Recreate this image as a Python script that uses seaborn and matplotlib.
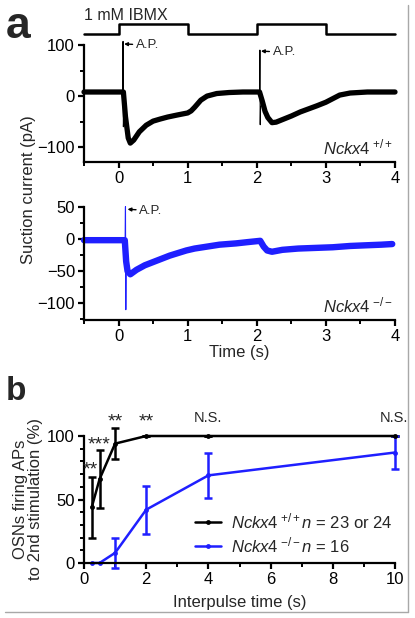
import numpy as np
import pandas as pd
import matplotlib
matplotlib.use("Agg")
import matplotlib.pyplot as plt
from matplotlib.ticker import MultipleLocator
from matplotlib.lines import Line2D
import seaborn as sns

# ---------------- data ----------------
# stimulus (1 mM IBMX) on/off
stim_t = [-0.5, 0, 0, 1, 1, 2, 2, 3, 3, 4]
stim_v = [0, 0, 1, 1, 0, 0, 1, 1, 0, 0]

# Nckx4 +/+ suction current (pA), smoothed trace
wt_t = [-0.5, 0.0, 0.07, 0.10, 0.14, 0.17, 0.22, 0.30, 0.40, 0.50, 0.60, 0.71, 0.85, 1.00,
        1.05, 1.10, 1.19, 1.28, 1.42, 1.60, 1.80, 2.04, 2.08, 2.12, 2.16, 2.22, 2.28, 2.39,
        2.50, 2.63, 2.75, 2.87, 3.00, 3.10, 3.20, 3.35, 3.60, 4.0]
wt_v = [8, 8, 8, -40, -82, -92, -86, -70, -57, -49, -45, -41, -37, -33,
        -29, -22, -8, 0, 5, 7, 8, 8, -10, -30, -42, -52, -51, -45,
        -39, -31, -25, -19, -12, -5, 2, 6, 8, 8]
# action potential spikes (+/+), first and second pulse
wt_sp1_t = [0.06, 0.065, 0.07, 0.075]
wt_sp1_v = [8, 107, -60, -45]
wt_sp2_t = [2.04, 2.045, 2.05, 2.055]
wt_sp2_v = [8, 90, -56, -20]

# Nckx4 -/- suction current (pA)
ko_t = [-0.5, 0.0, 0.09, 0.11, 0.13, 0.17, 0.26, 0.38, 0.50, 0.62, 0.74, 0.86, 0.98,
        1.10, 1.22, 1.46, 1.70, 1.87, 2.05, 2.10, 2.15, 2.22, 2.37, 2.60, 2.85, 3.10,
        3.35, 3.57, 3.80, 3.96]
ko_v = [-2, -2, -2, -35, -50, -55, -48, -41, -36, -31, -26, -22, -18,
        -15, -13, -9, -7, -5, -3, -12, -18, -20, -17, -15, -14, -13,
        -11, -10, -9, -8]
ko_sp_t = [0.095, 0.10, 0.105, 0.11]
ko_sp_v = [-2, 50, -110, -35]

# panel b
interpulse = [0.25, 0.5, 1, 2, 4, 10]
wt_pct = [44, 66, 94, 100, 100, 100]
wt_err = [24, 23, 12, 0, 0, 0]
ko_pct = [0, 0, 8, 42, 69, 87]
ko_err = [0, 0, 12, 19, 18, 13]
signif = ["**", "***", "**", "**", "N.S.", "N.S."]
signif_x = [0.21, 0.48, 1.01, 1.99, 4.0, 9.97]
signif_y = [73, 93, 111, 111, 114, 114]

# ---------------- style ----------------
sns.set_theme(style="ticks")
plt.rcParams["font.family"] = ["Liberation Sans", "DejaVu Sans"]
plt.rcParams["mathtext.fontset"] = "custom"
plt.rcParams["mathtext.it"] = "Liberation Sans:italic"
plt.rcParams["mathtext.rm"] = "Liberation Sans"
plt.rcParams["axes.linewidth"] = 1.6
for ax_ in ("xtick", "ytick"):
    plt.rcParams[f"{ax_}.major.width"] = 1.6
    plt.rcParams[f"{ax_}.minor.width"] = 1.4
    plt.rcParams[f"{ax_}.major.size"] = 4
    plt.rcParams[f"{ax_}.minor.size"] = 3
    plt.rcParams[f"{ax_}.major.pad"] = 2.5
    plt.rcParams[f"{ax_}.direction"] = "out"
    plt.rcParams[f"{ax_}.labelsize"] = 12
    plt.rcParams[f"{ax_}.color"] = "black"
    plt.rcParams[f"{ax_}.labelcolor"] = "black"
plt.rcParams["axes.edgecolor"] = "black"

W, H = 415, 618
fig = plt.figure(figsize=(W / 100, H / 100), dpi=100)

def box(l, r, t, b):
    return [l / W, 1 - b / H, (r - l) / W, (b - t) / H]

BLUE = "#1f1fff"
FS = 12

def line(ax, x, y, **kw):
    sns.lineplot(x=x, y=y, ax=ax, estimator=None, sort=False, **kw)

# stimulus axes
ax_s = fig.add_axes(box(84, 395, 24, 34))
line(ax_s, stim_t, stim_v, color="black", lw=1.8)
for l in ax_s.lines:
    l.set_clip_on(False)
ax_s.set_xlim(-0.5, 4)
ax_s.set_ylim(0, 1)
ax_s.axis("off")
fig.text(84 / W, 1 - 15 / H, "1 mM IBMX", fontsize=11.5, va="center", ha="left")

ap_kw = dict(fontsize=9.5, va="center", ha="left", annotation_clip=False,
             arrowprops=dict(arrowstyle="-|>", color="black", lw=1, shrinkA=0, shrinkB=0,
                             mutation_scale=5))

# panel a top
ax1 = fig.add_axes(box(84, 395, 45, 162))
line(ax1, wt_t, wt_v, color="black", lw=3.8)
line(ax1, wt_sp1_t, wt_sp1_v, color="black", lw=0.8)
line(ax1, wt_sp2_t, wt_sp2_v, color="black", lw=0.8)
for l in ax1.lines:
    l.set_clip_on(False)
ax1.set_xlim(-0.5, 4)
ax1.set_ylim(-129, 100)
ax1.set_yticks([-100, 0, 100])
ax1.set_yticklabels(["\u2212100", "0", "100"])
ax1.yaxis.set_minor_locator(MultipleLocator(50))
ax1.set_xticks([0, 1, 2, 3, 4])
ax1.xaxis.set_minor_locator(MultipleLocator(0.5))
ax1.set_ylabel("")
ax1.set_xlabel("")
sns.despine(ax=ax1)
ax1.annotate("A.P.", xy=(0.08, 102), xytext=(0.25, 100), **ap_kw)
ax1.annotate("A.P.", xy=(2.06, 88), xytext=(2.23, 86), **ap_kw)
ax1.text(3.97, -100, r"$\mathit{Nckx4}^{\ \mathrm{+/+}}$", fontsize=FS, ha="right", va="center")

# panel a bottom
ax2 = fig.add_axes(box(84, 395, 206.7, 320))
line(ax2, ko_t, ko_v, color=BLUE, lw=4.6)
line(ax2, ko_sp_t, ko_sp_v, color=BLUE, lw=0.8)
for l in ax2.lines:
    l.set_clip_on(False)
ax2.set_xlim(-0.5, 4)
ax2.set_ylim(-126, 50)
ax2.set_yticks([-100, -50, 0, 50])
ax2.set_yticklabels(["\u2212100", "\u221250", "0", "50"])
ax2.yaxis.set_minor_locator(MultipleLocator(25))
ax2.set_xticks([0, 1, 2, 3, 4])
ax2.xaxis.set_minor_locator(MultipleLocator(0.5))
ax2.set_ylabel("")
ax2.set_xlabel("Time (s)", fontsize=FS, labelpad=1)
sns.despine(ax=ax2)
ax2.annotate("A.P.", xy=(0.13, 46), xytext=(0.30, 44), **ap_kw)
ax2.text(3.97, -103, r"$\mathit{Nckx4}^{\ \mathrm{-/-}}$", fontsize=FS, ha="right", va="center")

fig.text(28 / W, 1 - 190 / H, "Suction current (pA)", rotation=90, fontsize=FS,
         ha="center", va="center")

# panel b
ax3 = fig.add_axes(box(84, 395, 436, 563))
ax3.errorbar(interpulse, wt_pct, yerr=wt_err, fmt="none", ecolor="black", elinewidth=1.8,
             capsize=3, capthick=1.8, clip_on=False)
ax3.errorbar(interpulse[2:], ko_pct[2:], yerr=ko_err[2:], fmt="none", ecolor=BLUE,
             elinewidth=1.8, capsize=3, capthick=1.8, clip_on=False)
sns.lineplot(x=interpulse, y=wt_pct, ax=ax3, color="black", lw=1.8, marker="o",
             markersize=3.5, markeredgewidth=0, estimator=None)
sns.lineplot(x=interpulse, y=ko_pct, ax=ax3, color=BLUE, lw=1.8, marker="o",
             markersize=3.5, markeredgewidth=0, estimator=None)
for l in ax3.lines:
    l.set_clip_on(False)
for c in ax3.collections:
    c.set_clip_on(False)
ax3.set_xlim(0, 10)
ax3.set_ylim(0, 100)
ax3.set_xticks([0, 2, 4, 6, 8, 10])
ax3.xaxis.set_minor_locator(MultipleLocator(1))
ax3.set_yticks([0, 50, 100])
ax3.yaxis.set_minor_locator(MultipleLocator(10))
sns.despine(ax=ax3)
ax3.set_xlabel("Interpulse time (s)", fontsize=FS, labelpad=6)
ax3.set_ylabel("OSNs firing APs\nto 2nd stimulation (%)", fontsize=FS, labelpad=3,
               linespacing=1.0)
for s, x, y in zip(signif, signif_x, signif_y):
    fs = 10.5 if s == "N.S." else 14
    ax3.text(x, y, s, ha="center", va="center", fontsize=fs, clip_on=False)

handles = [Line2D([], [], color="black", lw=1.8, marker="o", markersize=3.5, markeredgewidth=0),
           Line2D([], [], color=BLUE, lw=1.8, marker="o", markersize=3.5, markeredgewidth=0)]
labels = [r"$\mathit{Nckx4}^{\ \mathrm{+/+}}\mathit{n}$ = 23 or 24",
          r"$\mathit{Nckx4}^{\ \mathrm{-/-}}\mathit{n}$ = 16"]
ax3.legend(handles, labels, loc="lower right", bbox_to_anchor=(1.03, -0.03), frameon=False,
           fontsize=FS, handlelength=1.6, handletextpad=0.6, labelspacing=0.25,
           borderpad=0.2)

fig.text(6 / W, 1 - 26 / H, "a", fontsize=32, fontweight="bold", va="center", ha="left")
fig.text(6 / W, 1 - 392 / H, "b", fontsize=24, fontweight="bold", va="center", ha="left")

# thin gray frame at right and bottom edges
fig.add_artist(Line2D([407.5 / W, 407.5 / W], [1 - 612 / H, 1 - 5 / H], color="#a8a8a8", lw=1))
fig.add_artist(Line2D([5 / W, 407.5 / W], [1 - 612 / H, 1 - 612 / H], color="#a8a8a8", lw=1))

fig.savefig("out.png", dpi=100)
